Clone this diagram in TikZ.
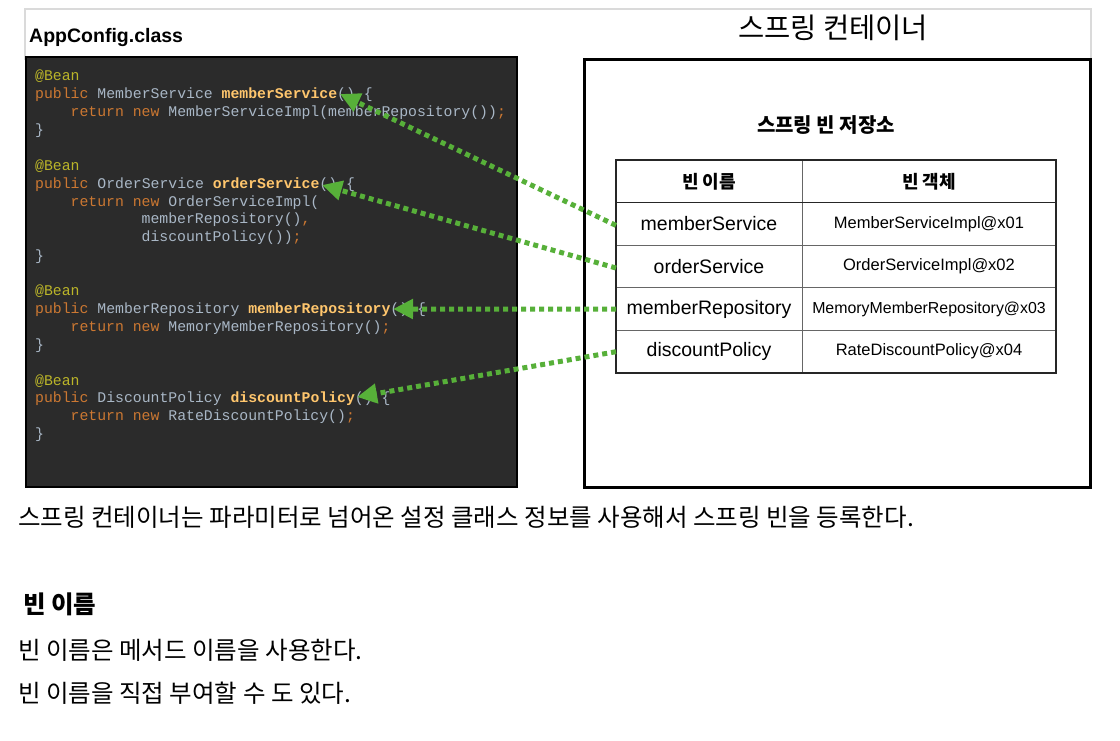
\documentclass[tikz,border=0pt]{standalone}
\usepackage{fontspec}
\setmainfont{Liberation Sans}
\setmonofont{Liberation Mono}
\newfontfamily\kr{Noto Sans CJK KR}
\usetikzlibrary{arrows.meta}
\definecolor{cbg}{HTML}{2B2B2B}
\definecolor{ckwc}{HTML}{CC7832}
\definecolor{canc}{HTML}{BBB529}
\definecolor{cfnc}{HTML}{FFC66D}
\definecolor{cpl}{HTML}{A9B7C6}
\definecolor{agreen}{HTML}{57B039}
\definecolor{tline}{HTML}{666666}
\definecolor{fgrey}{HTML}{DADADA}
\newcommand{\ckw}[1]{\textcolor{ckwc}{#1}}
\newcommand{\can}[1]{\textcolor{canc}{#1}}
\newcommand{\cfn}[1]{\textcolor{cfnc}{\bfseries #1}}
\tikzset{
 cell/.style={draw=tline, line width=1pt, minimum height=42.6pt, inner sep=0pt, outer sep=0pt},
 lcol/.style={cell, minimum width=186pt, font=\fontsize{19.5}{22}\selectfont},
 rcol/.style={cell, minimum width=254pt, font=\fontsize{16.5}{19}\selectfont},
 hdr/.style={font=\kr\bfseries\fontsize{18}{21}\selectfont},
 code/.style={anchor=base west, inner sep=0pt, font=\ttfamily\fontsize{14.8}{16}\selectfont, text=cpl},
 arr/.style={draw=agreen, line width=5pt, dash pattern=on 5pt off 4pt, -{Triangle[length=20pt,width=19pt]}},
 body/.style={anchor=west, inner sep=0pt, font=\kr\fontsize{24.5}{28}\selectfont},
}
\begin{document}
\begin{tikzpicture}[x=1pt,y=-1pt]
\useasboundingbox (0,0) rectangle (1120,740);
\fill[white] (0,0) rectangle (1120,740);
% light frame
\draw[fgrey, line width=1.5pt] (25,60) -- (25,9) -- (1091,9) -- (1091,60);
% titles
\node[anchor=west, inner sep=0pt, font=\bfseries\fontsize{19.5}{22}\selectfont] (apptitle) at (29,37) {AppConfig.class};
\node[inner sep=0pt, font=\kr\fontsize{28.5}{32}\selectfont] (ctitle) at (833,28) {스프링 컨테이너};
% code panel
\filldraw[fill=cbg, draw=black, line width=2pt] (26,57) rectangle (517,487);
% container
\draw[black, line width=3pt] (584,59) rectangle (1090,487);
% code lines
\def\xa{35}\def\xb{70.5}\def\xc{141.5}
\node[code] (l1) at (\xa,80.5) {\can{@Bean}};
\node[code] (l2) at (\xa,98.5) {\ckw{public} MemberService \cfn{memberService}() \{};
\node[code] (l3) at (\xb,116.5) {\ckw{return new} MemberServiceImpl(memberRepository())\ckw{;}};
\node[code] (l4) at (\xa,134.5) {\}};
\node[code] (l5) at (\xa,170.5) {\can{@Bean}};
\node[code] (l6) at (\xa,188.5) {\ckw{public} OrderService \cfn{orderService}() \{};
\node[code] (l7) at (\xb,206.5) {\ckw{return new} OrderServiceImpl(};
\node[code] (l8) at (\xc,223.5) {memberRepository()\ckw{,}};
\node[code] (l9) at (\xc,241.5) {discountPolicy())\ckw{;}};
\node[code] (l10) at (\xa,260.5) {\}};
\node[code] (l11) at (\xa,295.5) {\can{@Bean}};
\node[code] (l12) at (\xa,313.5) {\ckw{public} MemberRepository \cfn{memberRepository}() \{};
\node[code] (l13) at (\xb,331.5) {\ckw{return new} MemoryMemberRepository()\ckw{;}};
\node[code] (l14) at (\xa,349.5) {\}};
\node[code] (l15) at (\xa,385.5) {\can{@Bean}};
\node[code] (l16) at (\xa,402.5) {\ckw{public} DiscountPolicy \cfn{discountPolicy}() \{};
\node[code] (l17) at (\xb,420.5) {\ckw{return new} RateDiscountPolicy()\ckw{;}};
\node[code] (l18) at (\xa,438.5) {\}};
% table
\node[inner sep=0pt, font=\kr\bfseries\fontsize{20}{23}\selectfont] (ttitle) at (826,125) {스프링 빈 저장소};
\node[lcol, hdr] (h1) at (709,181.3) {빈 이름};
\node[rcol, hdr] (h2) at (929,181.3) {빈 객체};
\node[lcol] (r1a) at (709,223.9) {memberService};
\node[rcol] (r1b) at (929,223.9) {MemberServiceImpl@x01};
\node[lcol] (r2a) at (709,266.5) {orderService};
\node[rcol] (r2b) at (929,266.5) {OrderServiceImpl@x02};
\node[lcol] (r3a) at (709,309.1) {memberRepository};
\node[rcol, font=\fontsize{15.9}{19}\selectfont] (r3b) at (929,309.1) {MemoryMemberRepository@x03};
\node[lcol] (r4a) at (709,351.7) {discountPolicy};
\node[rcol] (r4b) at (929,351.7) {RateDiscountPolicy@x04};
\draw[line width=1.5pt, black!85] (h1.north west) rectangle (r4b.south east);
\draw[line width=1.5pt, black!85] (h1.south west) -- (h2.south east);
% arrow targets
\coordinate (t1) at (340,94);
\coordinate (t2) at (322,185);
\coordinate (t3) at (393,309);
\coordinate (t4) at (357,397);
\draw[arr] ([yshift=-1.5pt]r1a.west) -- (t1);
\draw[arr] ([yshift=-1.5pt]r2a.west) -- (t2);
\draw[arr] (r3a.west) -- (t3);
\draw[arr] (r4a.west) -- (t4);
% body text
\node[body] (p1) at (18,517) {스프링 컨테이너는 파라미터로 넘어온 설정 클래스 정보를 사용해서 스프링 빈을 등록한다.};
\node[body, font=\kr\bfseries\fontsize{24.5}{28}\selectfont] (p2) at (23,604) {빈 이름};
\node[body] (p3) at (18,650) {빈 이름은 메서드 이름을 사용한다.};
\node[body] (p4) at (18,693) {빈 이름을 직접 부여할 수 도 있다.};
\end{tikzpicture}
\end{document}
